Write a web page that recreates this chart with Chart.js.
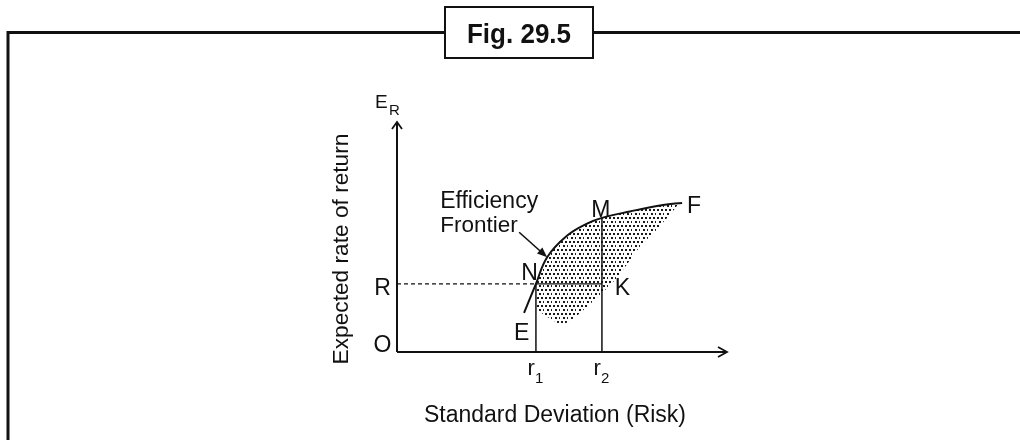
<!DOCTYPE html>
<html lang="en">
<head>
<meta charset="UTF-8" />
<title>Fig. 29.5 - Efficiency Frontier</title>
<script src="https://cdn.jsdelivr.net/npm/chart.js"></script>
<style>
  body { margin: 0; background: #fff; }
  canvas { display: block; }
</style>
</head>
<body>
<canvas id="chart" width="1020" height="440"></canvas>
<script>
// axis extent (risk / return units)
const xMax = 10;
const yMax = 10;

// efficiency frontier, E -> F
const frontierRisk   = [3.85, 4.21, 4.55, 5.15, 5.76, 6.21, 7.06, 8.06, 8.64];
const frontierReturn = [1.70, 2.96, 4.12, 5.05, 5.58, 5.83, 6.11, 6.39, 6.48];

// shaded area: top follows the frontier from N, then back down along its lower edge
const shadeTopRisk     = [4.21, 4.55, 5.15, 5.76, 6.21, 7.06, 8.06, 8.52];
const shadeTopReturn   = [2.96, 4.12, 5.05, 5.58, 5.83, 6.11, 6.39, 6.46];
const shadeEdgeRisk    = [7.95, 7.35, 6.65, 5.55, 5.00, 4.24];
const shadeEdgeReturn  = [5.45, 4.55, 3.20, 1.70, 1.20, 1.83];

// marked levels
const r1 = 4.21, r2 = 6.21;
const R = 2.96;        // return at N (and K)
const returnM = 5.83;  // return at M

const FONT = '"Liberation Sans", Arial, sans-serif';
const INK = '#111';

const pts = (xs, ys) => xs.map((x, i) => ({ x: x, y: ys[i] }));

// stipple pattern for the attainable set
function stipple() {
  const c = document.createElement('canvas');
  c.width = 8; c.height = 8;
  const g = c.getContext('2d');
  g.fillStyle = '#1a1a1a';
  [[1, 1], [5, 1], [3, 5], [7, 5]].forEach(p => g.fillRect(p[0], p[1], 2, 2));
  return g.createPattern(c, 'repeat');
}

function seg(data, extra) {
  return Object.assign({
    data: data, showLine: true, borderColor: INK, borderWidth: 1.5,
    pointRadius: 0, fill: false, clip: false
  }, extra || {});
}

const decor = {
  id: 'decor',
  beforeDraw(chart) {
    const ctx = chart.ctx;
    ctx.save();
    ctx.fillStyle = '#fff';
    ctx.fillRect(0, 0, chart.width, chart.height);
    // outer frame (left + top)
    ctx.strokeStyle = INK;
    ctx.lineWidth = 3;
    ctx.beginPath();
    ctx.moveTo(8, chart.height);
    ctx.lineTo(8, 32.5);
    ctx.lineTo(chart.width, 32.5);
    ctx.stroke();
    // caption box
    ctx.fillStyle = '#fff';
    ctx.fillRect(444, 6, 150, 53);
    ctx.lineWidth = 2;
    ctx.strokeRect(445, 7, 148, 51);
    ctx.fillStyle = INK;
    ctx.font = 'bold 26px ' + FONT;
    ctx.textAlign = 'center';
    ctx.textBaseline = 'alphabetic';
    ctx.translate(519, 43);
    ctx.scale(1, 1.08);
    ctx.fillText('Fig. 29.5', 0, 0);
    ctx.restore();
  },
  afterDatasetsDraw(chart) {
    const ctx = chart.ctx;
    const sx = chart.scales.x, sy = chart.scales.y;
    const px = v => sx.getPixelForValue(v);
    const py = v => sy.getPixelForValue(v);
    const x0 = px(0), y0 = py(0);

    ctx.save();
    ctx.strokeStyle = INK;
    ctx.fillStyle = INK;
    ctx.lineWidth = 1.8;
    ctx.lineJoin = 'miter';

    // axis arrowheads
    const yt = py(yMax), xr = px(xMax);
    ctx.beginPath();
    ctx.moveTo(x0 - 5, yt + 7); ctx.lineTo(x0, yt); ctx.lineTo(x0 + 5, yt + 7);
    ctx.moveTo(xr - 9, y0 - 5); ctx.lineTo(xr, y0); ctx.lineTo(xr - 9, y0 + 5);
    ctx.stroke();

    const text = (s, x, y, size, align) => {
      ctx.font = size + 'px ' + FONT;
      ctx.textAlign = align || 'center';
      ctx.textBaseline = 'alphabetic';
      ctx.fillText(s, x, y);
    };

    // point labels
    const last = frontierRisk.length - 1;
    text('E', px(frontierRisk[0]) - 2.5, py(frontierReturn[0]) + 27, 23);
    text('N', px(r1) - 6.5, py(R) - 4, 23);
    text('K', px(r2) + 20.5, py(R) + 11, 23);
    text('M', px(r2) - 1, py(returnM) - 1, 23);
    text('F', px(frontierRisk[last]) + 12, py(frontierReturn[last]) + 10, 23);
    text('R', x0 - 14.5, py(R) + 11, 23);
    text('O', x0 - 14.5, y0, 23);

    // E_R
    text('E', x0 - 22, yt - 14, 19, 'left');
    text('R', x0 - 8, yt - 7, 15, 'left');

    // r1, r2
    [[r1, '1'], [r2, '2']].forEach(d => {
      text('r', px(d[0]) - 1, y0 + 23, 22, 'right');
      text(d[1], px(d[0]) - 1, y0 + 31, 15, 'left');
    });

    // axis titles
    text('Standard Deviation (Risk)', x0 + 158, y0 + 70, 23);
    ctx.save();
    ctx.translate(x0 - 49, (y0 + yt) / 2 + 12);
    ctx.rotate(-Math.PI / 2);
    text('Expected rate of return', 0, 0, 22.7);
    ctx.restore();

    // "Efficiency Frontier" callout
    const tx = px(frontierRisk[2]), ty = py(frontierReturn[2]);
    text('Efficiency', tx - 107, ty - 49, 23, 'left');
    text('Frontier', tx - 107, ty - 25, 22.5, 'left');
    const ax = tx - 28, ay = ty - 25;
    const ang = Math.atan2(ty - ay, tx - ax);
    ctx.lineWidth = 1.6;
    ctx.beginPath();
    ctx.moveTo(ax, ay);
    ctx.lineTo(tx - 6 * Math.cos(ang), ty - 6 * Math.sin(ang));
    ctx.stroke();
    ctx.beginPath();
    ctx.moveTo(tx, ty);
    ctx.lineTo(tx - 10 * Math.cos(ang) + 4 * Math.sin(ang), ty - 10 * Math.sin(ang) - 4 * Math.cos(ang));
    ctx.lineTo(tx - 10 * Math.cos(ang) - 4 * Math.sin(ang), ty - 10 * Math.sin(ang) + 4 * Math.cos(ang));
    ctx.closePath();
    ctx.fill();
    ctx.restore();
  }
};

new Chart(document.getElementById('chart'), {
  type: 'scatter',
  data: {
    datasets: [
      // frontier curve
      seg(pts(frontierRisk, frontierReturn), { borderWidth: 2, tension: 0.4, order: 1 }),
      // axes
      seg([{ x: 0, y: 0 }, { x: xMax, y: 0 }], { borderWidth: 2, order: 2 }),
      seg([{ x: 0, y: 0 }, { x: 0, y: yMax }], { borderWidth: 2, order: 2 }),
      // R .... N dashed, N - K solid
      seg([{ x: 0, y: R }, { x: r1, y: R }], { borderWidth: 1.2, borderDash: [4, 3], order: 3 }),
      seg([{ x: r1, y: R }, { x: r2, y: R }], { borderWidth: 1.2, order: 3 }),
      // r1, r2 verticals
      seg([{ x: r1, y: 0 }, { x: r1, y: R }], { order: 3 }),
      seg([{ x: r2, y: 0 }, { x: r2, y: returnM }], { order: 3 }),
      // shaded attainable set
      seg(pts(shadeTopRisk.concat(shadeEdgeRisk), shadeTopReturn.concat(shadeEdgeReturn)), {
        borderColor: 'rgba(0,0,0,0)', borderWidth: 0, tension: 0.2,
        fill: 'shape', backgroundColor: stipple(), order: 10
      })
    ]
  },
  options: {
    responsive: false,
    animation: false,
    events: [],
    layout: { padding: { left: 397, right: 293, top: 122, bottom: 88 } },
    scales: {
      x: { type: 'linear', min: 0, max: xMax, display: false },
      y: { type: 'linear', min: 0, max: yMax, display: false }
    },
    plugins: { legend: { display: false }, tooltip: { enabled: false } }
  },
  plugins: [decor]
});
</script>
</body>
</html>
